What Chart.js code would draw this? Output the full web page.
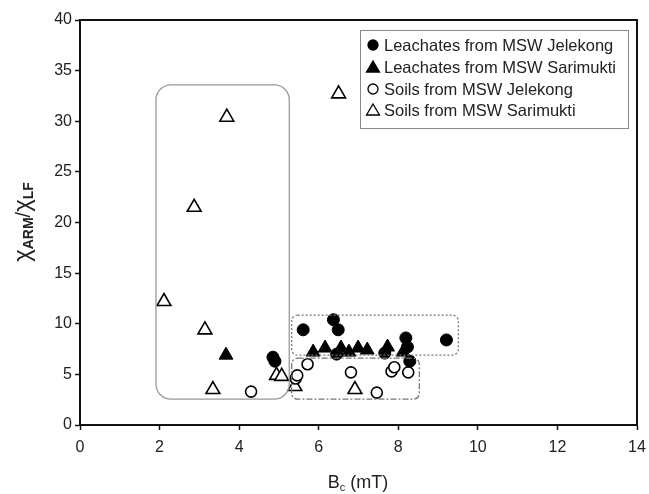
<!DOCTYPE html>
<html>
<head>
<meta charset="utf-8">
<script src="https://cdn.jsdelivr.net/npm/chart.js@4.4.1/dist/chart.umd.min.js"></script>
<style>
html, body { margin: 0; padding: 0; background: #fff; }
#wrap { width: 649px; height: 494px; }
</style>
</head>
<body>
<div id="wrap"><canvas id="chart"></canvas></div>
<script>
// values: Bc (mT) vs chiARM/chiLF
var leachJelekongX = [4.85, 4.9, 5.61, 6.37, 6.49, 6.45, 7.66, 8.19, 8.23, 8.29, 9.21];
var leachJelekongY = [6.7, 6.3, 9.4, 10.4, 9.4, 7.0, 7.1, 8.6, 7.7, 6.3, 8.4];
var leachSarimuktiX = [3.67, 5.86, 6.16, 6.56, 6.76, 6.99, 7.22, 7.73, 8.12];
var leachSarimuktiY = [6.9, 7.2, 7.6, 7.6, 7.2, 7.6, 7.4, 7.7, 7.2];
var soilJelekongX = [4.3, 5.42, 5.46, 5.72, 6.81, 7.46, 7.83, 7.9, 8.25];
var soilJelekongY = [3.3, 4.6, 4.9, 6.0, 5.2, 3.2, 5.3, 5.7, 5.2];
var soilSarimuktiX = [2.11, 2.87, 3.14, 3.34, 3.69, 4.94, 5.07, 5.4, 6.5, 6.91];
var soilSarimuktiY = [12.2, 21.5, 9.4, 3.5, 30.4, 4.9, 4.8, 3.8, 32.7, 3.5];
var seriesLabels = ["Leachates from MSW Jelekong", "Leachates from MSW Sarimukti",
                    "Soils from MSW Jelekong", "Soils from MSW Sarimukti"];
var xTicks = [0, 2, 4, 6, 8, 10, 12, 14];
var yTicks = [0, 5, 10, 15, 20, 25, 30, 35, 40];

function pts(xs, ys) {
    return xs.map(function (x, i) { return { x: x, y: ys[i] }; });
}

var FONT = "'Liberation Sans', Arial, sans-serif";
var TXT = "#222";

// grouping boxes drawn around point clusters (data units)
var boxes = [
    { x0: 1.91, x1: 5.26, y0: 33.6, y1: 2.55, color: "#9a9a9a", dash: [], r: 15 },
    { x0: 5.32, x1: 9.51, y0: 10.85, y1: 6.9, color: "#777", dash: [2, 2], r: 6 },
    { x0: 5.32, x1: 8.53, y0: 6.6, y1: 2.55, color: "#777", dash: [6, 2, 2, 2], r: 6 }
];

var extras = {
    id: "extras",
    afterDatasetsDraw: function (chart) {
        var ctx = chart.ctx, a = chart.chartArea;
        var xs = chart.scales.x, ys = chart.scales.y;
        ctx.save();
        boxes.forEach(function (b) {
            var l = xs.getPixelForValue(b.x0), r = xs.getPixelForValue(b.x1);
            var t = ys.getPixelForValue(b.y0), bt = ys.getPixelForValue(b.y1);
            ctx.beginPath();
            ctx.setLineDash(b.dash);
            ctx.strokeStyle = b.color;
            ctx.lineWidth = 1.3;
            ctx.roundRect(l, t, r - l, bt - t, b.r);
            ctx.stroke();
        });
        ctx.setLineDash([]);

        // plot frame
        ctx.strokeStyle = "#111";
        ctx.lineWidth = 2;
        ctx.strokeRect(a.left, a.top, a.right - a.left, a.bottom - a.top);

        // legend inside the plot
        var lx = 360, ly = 30, lw = 268, lh = 98;
        ctx.fillStyle = "#fff";
        ctx.fillRect(lx, ly, lw, lh);
        ctx.strokeStyle = "#888";
        ctx.lineWidth = 1;
        ctx.strokeRect(lx + 0.5, ly + 0.5, lw, lh);
        var rows = [45, 67, 89, 110];
        ctx.font = "16.5px " + FONT;
        ctx.textBaseline = "middle";
        chart.data.datasets.forEach(function (ds, i) {
            var cx = 373, cy = rows[i];
            ctx.beginPath();
            ctx.lineWidth = 1.3;
            ctx.strokeStyle = "#000";
            ctx.fillStyle = ds.backgroundColor;
            if (ds.pointStyle === "circle") {
                ctx.arc(cx, cy, 5, 0, Math.PI * 2);
            } else {
                ctx.moveTo(cx, cy - 6);
                ctx.lineTo(cx + 6.5, cy + 5);
                ctx.lineTo(cx - 6.5, cy + 5);
                ctx.closePath();
            }
            ctx.fill();
            ctx.stroke();
            ctx.fillStyle = TXT;
            ctx.textAlign = "left";
            ctx.fillText(ds.label, 384, cy + 1);
        });

        // y axis title: chi_ARM / chi_LF
        ctx.save();
        ctx.translate(24, 222);
        ctx.rotate(-Math.PI / 2);
        ctx.fillStyle = TXT;
        ctx.textBaseline = "alphabetic";
        var parts = [
            { t: "\u03c7", f: "24px " + FONT, dy: 0 },
            { t: "ARM", f: "bold 14px " + FONT, dy: 3 },
            { t: "/", f: "20px " + FONT, dy: 0 },
            { t: "\u03c7", f: "24px " + FONT, dy: 0 },
            { t: "LF", f: "bold 14px " + FONT, dy: 3 }
        ];
        var tw = 0;
        parts.forEach(function (p) { ctx.font = p.f; tw += ctx.measureText(p.t).width; });
        var px = -tw / 2;
        parts.forEach(function (p) {
            ctx.font = p.f;
            ctx.textAlign = "left";
            ctx.fillText(p.t, px, 6 + p.dy);
            px += ctx.measureText(p.t).width;
        });
        ctx.restore();

        // x axis title: B_c (mT)
        var xp = [
            { t: "B", f: "18px " + FONT, dy: 0 },
            { t: "c", f: "11px " + FONT, dy: 3 },
            { t: " (mT)", f: "18px " + FONT, dy: 0 }
        ];
        var w2 = 0;
        xp.forEach(function (p) { ctx.font = p.f; w2 += ctx.measureText(p.t).width; });
        var sx = 358 - w2 / 2;
        ctx.fillStyle = TXT;
        xp.forEach(function (p) {
            ctx.font = p.f;
            ctx.textAlign = "left";
            ctx.textBaseline = "alphabetic";
            ctx.fillText(p.t, sx, 488 + p.dy);
            sx += ctx.measureText(p.t).width;
        });
        ctx.restore();
    }
};

var ctx = document.getElementById("chart").getContext("2d");
var chart = new Chart(ctx, {
    type: "scatter",
    data: {
        datasets: [{
            label: seriesLabels[0],
            data: pts(leachJelekongX, leachJelekongY),
            pointStyle: "circle",
            pointRadius: 6,
            backgroundColor: "#000",
            borderColor: "#000",
            borderWidth: 1
        }, {
            label: seriesLabels[1],
            data: pts(leachSarimuktiX, leachSarimuktiY),
            pointStyle: "triangle",
            pointRadius: 8,
            backgroundColor: "#000",
            borderColor: "#000",
            borderWidth: 1
        }, {
            label: seriesLabels[2],
            data: pts(soilJelekongX, soilJelekongY),
            pointStyle: "circle",
            pointRadius: 5.5,
            backgroundColor: "#fff",
            borderColor: "#000",
            borderWidth: 1.6
        }, {
            label: seriesLabels[3],
            data: pts(soilSarimuktiX, soilSarimuktiY),
            pointStyle: "triangle",
            pointRadius: 8,
            backgroundColor: "#fff",
            borderColor: "#000",
            borderWidth: 1.6
        }]
    },
    options: {
        responsive: true,
        maintainAspectRatio: false,
        animation: false,
        layout: { padding: { left: 0, top: 20, right: 12, bottom: 0 } },
        plugins: { legend: { display: false }, tooltip: { enabled: false } },
        scales: {
            x: {
                type: "linear",
                min: 0, max: 14,
                afterBuildTicks: function (s) { s.ticks = xTicks.map(function (v) { return { value: v }; }); },
                afterFit: function (s) { s.height = 69; s.paddingLeft = 0; s.paddingRight = 0; },
                grid: { drawOnChartArea: false, tickLength: 5, tickColor: "#111", tickWidth: 1.5 },
                border: { color: "#111", width: 2 },
                ticks: { color: TXT, font: { family: FONT, size: 16 }, padding: 8 }
            },
            y: {
                type: "linear",
                min: 0, max: 40,
                afterBuildTicks: function (s) { s.ticks = yTicks.map(function (v) { return { value: v }; }); },
                afterFit: function (s) { s.width = 80; s.paddingTop = 0; s.paddingBottom = 0; },
                grid: { drawOnChartArea: false, tickLength: 5, tickColor: "#111", tickWidth: 1.5 },
                border: { color: "#111", width: 2 },
                ticks: { color: TXT, font: { family: FONT, size: 16 }, padding: 3 }
            }
        }
    },
    plugins: [extras]
});
</script>
</body>
</html>
